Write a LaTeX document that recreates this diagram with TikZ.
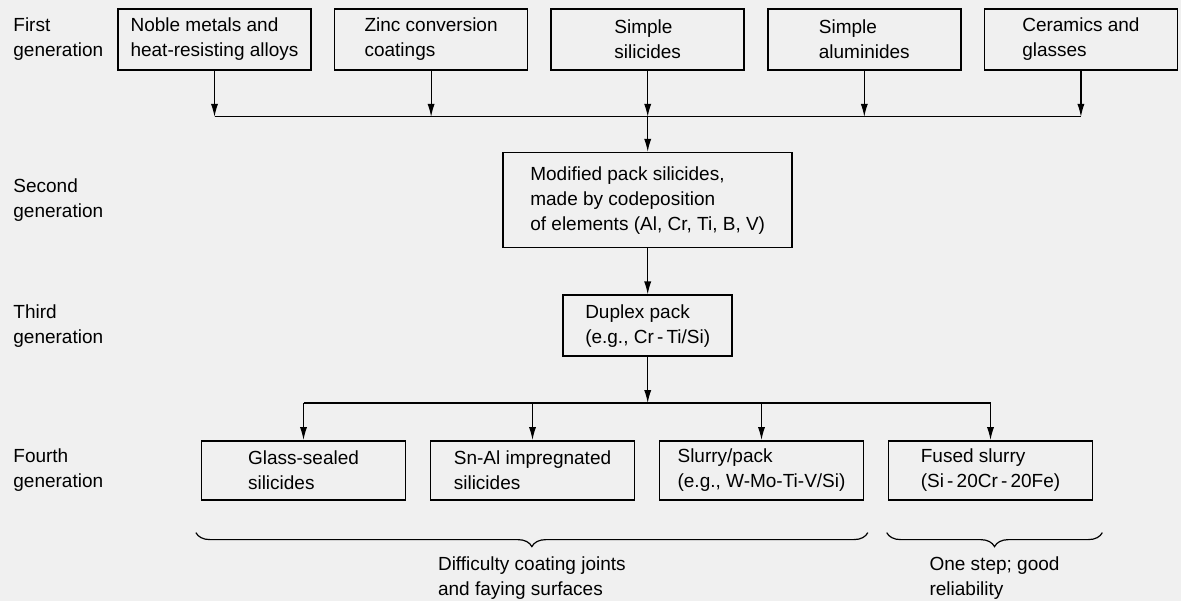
\documentclass[tikz,border=0pt]{standalone}
\usepackage{fontspec}
\setmainfont{Liberation Sans}
\usepackage{tikz}
\usetikzlibrary{positioning,arrows.meta,decorations.pathreplacing}

\definecolor{paper}{gray}{0.94}

\begin{document}
\begin{tikzpicture}[
    node distance=11pt,
    box/.style={
        rectangle,
        draw,
        line width=0.8pt,
        align=left,
        minimum width=96.5pt,
        minimum height=30.5pt,
        font=\fontsize{9.5}{12.5}\selectfont
    },
    lowbox/.style={
        box,
        minimum width=102pt,
        minimum height=29.5pt
    },
    lab/.style={
        anchor=west,
        align=left,
        inner sep=0pt,
        font=\fontsize{9.5}{12.5}\selectfont
    },
    arrow/.style={
        -{Latex[length=6.5pt,width=3.6pt]},
        line width=0.6pt
    },
    bar/.style={
        line width=0.6pt
    },
    brace/.style={
        decorate,
        decoration={brace,amplitude=7pt,mirror},
        line width=0.6pt
    },
    bracetext/.style={
        midway,
        below=12pt,
        align=left,
        inner sep=0pt,
        font=\fontsize{9.5}{12.5}\selectfont
    }
]

\path[use as bounding box, fill=paper] (0,0) rectangle (590.5pt,-300.5pt);

\node[box] (noble) at (107.25pt,-19.75pt)
{Noble metals and\\heat-resisting alloys};

\node[box, right=of noble] (zinc)
{Zinc conversion\\coatings};

\node[box, right=of zinc] (silicides)
{Simple\\silicides};

\node[box, right=of silicides] (aluminides)
{Simple\\aluminides};

\node[box, right=of aluminides] (ceramics)
{Ceramics and\\glasses};

\node[box, below=40.5pt of silicides, minimum width=144.5pt, minimum height=47.5pt] (modified)
{Modified pack silicides,\\made by codeposition\\of elements (Al, Cr, Ti, B, V)};

\node[box, below=23pt of modified, minimum width=84.5pt] (duplex)
{Duplex pack\\(e.g., Cr\,-\,Ti/Si)};

\node[lowbox, below=41.5pt of duplex, xshift=-57.6pt] (snal)
{Sn-Al impregnated\\silicides};

\node[lowbox, left=11.7pt of snal] (glass)
{Glass-sealed\\silicides};

\node[lowbox, right=11.7pt of snal] (slurry)
{Slurry/pack\\(e.g., W-Mo-Ti-V/Si)};

\node[lowbox, right=11.7pt of slurry] (fused)
{Fused slurry\\(Si\,-\,20Cr\,-\,20Fe)};

\coordinate (labcol) at (6.5pt,0);
\node[lab] (first) at (labcol |- noble) {First\\generation};
\node[lab] (second) at (labcol |- modified) {Second\\generation};
\node[lab] (third) at (labcol |- duplex) {Third\\generation};
\node[lab] (fourth) at (labcol |- snal) {Fourth\\generation};

\coordinate (topbar) at ([yshift=17.5pt]modified.north);
\coordinate (lowbar) at ([yshift=18.5pt]duplex |- snal.north);

\draw[arrow] (noble) -- (noble |- topbar);
\draw[arrow] (zinc) -- (zinc |- topbar);
\draw[arrow] (silicides) -- (silicides |- topbar);
\draw[arrow] (aluminides) -- (aluminides |- topbar);
\draw[arrow] (ceramics) -- (ceramics |- topbar);
\draw[bar] (noble |- topbar) -- (ceramics |- topbar);
\draw[arrow] (topbar) -- (modified);
\draw[arrow] (modified) -- (duplex);

\draw[arrow] (duplex) -- (lowbar);
\draw[bar] (glass |- lowbar) -- (fused |- lowbar);
\draw[arrow] (glass |- lowbar) -- (glass);
\draw[arrow] (snal |- lowbar) -- (snal);
\draw[arrow] (slurry |- lowbar) -- (slurry);
\draw[arrow] (fused |- lowbar) -- (fused);

\draw[brace] ([xshift=-2.4pt,yshift=-16pt]glass.south west) -- ([xshift=1.75pt,yshift=-16pt]slurry.south east)
    node[bracetext] (joints) {Difficulty coating joints\\and faying surfaces};
\draw[brace] ([xshift=-0.5pt,yshift=-16pt]fused.south west) -- ([xshift=4.5pt,yshift=-16pt]fused.south east)
    node[bracetext] (onestep) {One step; good\\reliability};

\end{tikzpicture}
\end{document}
